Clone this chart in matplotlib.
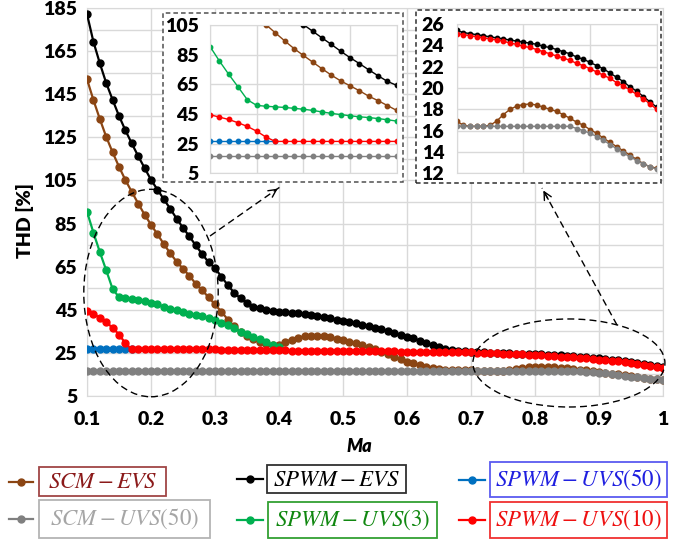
import numpy as np
import matplotlib
matplotlib.use("Agg")
from matplotlib import pyplot as plt
from matplotlib.patches import Ellipse, Rectangle, FancyArrowPatch
from matplotlib.lines import Line2D

plt.rcParams['font.family'] = ['Lato', 'DejaVu Sans']
plt.rcParams['mathtext.fontset'] = 'stix'

# modulation index Ma, 0.10 ... 1.00 in steps of 0.01
ma = np.round(np.arange(10, 101) / 100, 2)

# THD [%] per strategy
scm_evs = [
    152.1, 142.4, 133.6, 125.3, 118.1, 111.4, 105.2, 99.7, 94.3, 89.1,
    84.5, 80.0, 75.5, 71.2, 67.3, 64.0, 60.7, 57.0, 54.0, 50.7,
    47.4, 44.0, 40.4, 37.2, 34.7, 32.7, 31.2, 30.0, 29.1, 28.4,
    28.6, 30.0, 31.1, 32.0, 32.6, 32.9, 32.9, 32.6, 32.1, 31.5,
    30.9, 30.1, 29.3, 28.4, 27.5, 26.6, 25.4, 24.3, 23.1, 21.9,
    20.8, 20.0, 19.2, 18.5, 17.9, 17.4, 17.1, 17.0, 16.9, 16.9,
    16.9, 16.5, 16.4, 16.4, 16.4, 16.5, 16.9, 17.5, 18.0, 18.3,
    18.45, 18.5, 18.4, 18.2, 18.0, 17.8, 17.5, 17.15, 16.8, 16.5,
    16.1, 15.75, 15.3, 14.9, 14.5, 14.1, 13.7, 13.3, 12.9, 12.6,
    12.5,
]
scm_uvs50 = [
    16.4, 16.4, 16.4, 16.4, 16.4, 16.4, 16.4, 16.4, 16.4, 16.4,
    16.4, 16.4, 16.4, 16.4, 16.4, 16.4, 16.4, 16.4, 16.4, 16.4,
    16.4, 16.4, 16.4, 16.4, 16.4, 16.4, 16.4, 16.4, 16.4, 16.4,
    16.4, 16.4, 16.4, 16.4, 16.4, 16.4, 16.4, 16.4, 16.4, 16.4,
    16.4, 16.4, 16.4, 16.4, 16.4, 16.4, 16.4, 16.4, 16.4, 16.4,
    16.4, 16.4, 16.4, 16.4, 16.4, 16.4, 16.4, 16.4, 16.4, 16.4,
    16.4, 16.4, 16.4, 16.4, 16.4, 16.4, 16.4, 16.4, 16.4, 16.4,
    16.4, 16.4, 16.4, 16.4, 16.4, 16.4, 16.4, 16.4, 16.2, 16.0,
    15.75, 15.45, 15.1, 14.7, 14.3, 13.9, 13.55, 13.2, 12.9, 12.6,
    12.4,
]
spwm_evs = [
    182.3, 169.5, 159.5, 150.3, 142.5, 135.0, 128.3, 122.2, 116.3, 110.8,
    105.3, 100.8, 96.3, 91.9, 87.3, 83.0, 79.0, 74.8, 70.8, 67.0,
    64.3, 60.3, 56.4, 52.8, 50.2, 47.9, 46.3, 45.6, 44.9, 44.4,
    44.1, 43.8, 43.5, 43.2, 42.8, 42.4, 42.0, 41.5, 41.0, 40.4,
    39.8, 39.2, 38.6, 37.9, 37.2, 36.5, 35.8, 35.0, 34.2, 33.4,
    32.5, 31.6, 30.6, 29.6, 28.6, 27.7, 26.9, 26.3, 25.9, 25.6,
    25.4, 25.2, 25.1, 25.0, 24.9, 24.8, 24.7, 24.6, 24.5, 24.4,
    24.3, 24.2, 24.1, 23.9, 23.8, 23.6, 23.4, 23.2, 22.9, 22.7,
    22.4, 22.1, 21.8, 21.4, 21.0, 20.6, 20.1, 19.7, 19.2, 18.7,
    18.2,
]
# these two only run over the low-Ma range
spwm_uvs3 = [
    90.5, 80.8, 71.8, 63.3, 54.6, 50.8, 50.2, 49.8, 49.4, 48.8,
    48.2, 47.4, 46.4, 45.4, 44.6, 43.8, 43.1, 42.6, 41.9, 41.1,
    40.2, 38.9, 37.7, 36.3, 34.8, 33.6, 32.4, 31.2, 29.9, 28.6,
    27.8,
]
spwm_uvs50 = [26.5, 26.5, 26.5, 26.5, 26.5, 26.5, 26.5, 26.5]
spwm_uvs10 = [
    44.5, 42.9, 41.3, 39.1, 36.6, 33.4, 29.4, 26.5, 26.5, 26.5,
    26.5, 26.5, 26.5, 26.5, 26.5, 26.5, 26.5, 26.5, 26.5, 26.5,
    26.5, 26.4, 26.4, 26.3, 26.3, 26.3, 26.2, 26.2, 26.2, 26.1,
    26.1, 26.1, 26.0, 26.0, 26.0, 26.0, 25.9, 25.9, 25.9, 25.8,
    25.8, 25.8, 25.8, 25.7, 25.7, 25.7, 25.6, 25.6, 25.6, 25.5,
    25.5, 25.5, 25.4, 25.4, 25.4, 25.3, 25.3, 25.3, 25.2, 25.2,
    25.1, 25.0, 24.9, 24.8, 24.7, 24.6, 24.5, 24.4, 24.2, 24.1,
    23.9, 23.8, 23.6, 23.4, 23.2, 23.0, 22.8, 22.6, 22.3, 22.1,
    21.8, 21.5, 21.2, 20.9, 20.5, 20.2, 19.8, 19.4, 19.0, 18.5,
    18.0,
]

x_ticks = [0.1, 0.2, 0.3, 0.4, 0.5, 0.6, 0.7, 0.8, 0.9, 1.0]
x_tick_labels = ['0.1', '0.2', '0.3', '0.4', '0.5', '0.6', '0.7', '0.8', '0.9', '1']
y_ticks = [5, 25, 45, 65, 85, 105, 125, 145, 165, 185]

# drawing order: later series sit on top
series = [
    (ma, scm_evs, '#8B4513'),
    (ma, scm_uvs50, '#808080'),
    (ma, spwm_evs, '#000000'),
    (ma[:len(spwm_uvs3)], spwm_uvs3, '#00B050'),
    (ma[:len(spwm_uvs50)], spwm_uvs50, '#0070C0'),
    (ma, spwm_uvs10, '#FF0000'),
]
legend_labels = [
    r'$SCM-EVS$', r'$SCM-UVS\left(50\right)$', r'$SPWM-EVS$',
    r'$SPWM-UVS\left(3\right)$', r'$SPWM-UVS\left(50\right)$', r'$SPWM-UVS\left(10\right)$',
]
legend_text_colors = ['#8B1A1A', '#A6A6A6', '#000000', '#118811', '#2020E0', '#EE1111']
legend_box_colors = ['#A04545', '#B4B4B4', '#303030', '#33A033', '#5A5AF0', '#F03030']

W, H = 678, 539
grid_c = '#D9D9D9'


def fx(x):
    return x / W


def fy(y):
    return 1 - y / H


fig = plt.figure(figsize=(W / 100, H / 100), dpi=100)

# ---- main chart
ax = fig.add_axes([fx(87), fy(395.7), (663 - 87) / W, (395.7 - 8.3) / H])
for x, y, c in series:
    ax.plot(x, y, color=c, lw=1.6, marker='o', ms=5, zorder=3)
ax.set_xlim(0.1, 1.0)
ax.set_ylim(5, 185)
ax.set_xticks(x_ticks)
ax.set_xticklabels(x_tick_labels, fontsize=14, fontweight='heavy')
ax.set_yticks(y_ticks)
ax.set_yticklabels([str(v) for v in y_ticks], fontsize=14, fontweight='heavy')
ax.set_yticks(np.arange(15, 185, 20), minor=True)
ax.grid(True, which='both', color=grid_c, lw=1)
ax.set_axisbelow(True)
ax.tick_params(which='both', length=0)
ax.tick_params(axis='x', pad=11)
ax.tick_params(axis='y', pad=7)
for s in ax.spines.values():
    s.set_color(grid_c)

fig.text(fx(25), fy(221), 'THD [%]', rotation=90, ha='center', va='center',
         fontsize=14, fontweight='heavy')
fig.text(fx(359), fy(446), 'Ma', ha='center', va='center',
         fontsize=13, fontweight='heavy', style='italic')

# dashed ellipses marking the zoomed regions
ax.add_patch(Ellipse((0.2, 52.7), 0.21, 96.4, fill=False, ls=(0, (5, 3)),
                     lw=1, ec='black', clip_on=False, zorder=5))
ax.add_patch(Ellipse((0.853, 20.2), 0.30, 40.9, fill=False, ls=(0, (5, 3)),
                     lw=1, ec='black', clip_on=False, zorder=5))


def dashed_arrow(p0, p1):
    fig.add_artist(Line2D([fx(p0[0]), fx(p1[0])], [fy(p0[1]), fy(p1[1])],
                          color='black', lw=1, ls=(0, (5, 3)), zorder=3))
    t = 0.9
    q = (p0[0] + t * (p1[0] - p0[0]), p0[1] + t * (p1[1] - p0[1]))
    fig.add_artist(FancyArrowPatch((fx(q[0]), fy(q[1])), (fx(p1[0]), fy(p1[1])),
                                   transform=fig.transFigure, arrowstyle='->',
                                   mutation_scale=14, lw=1, color='black', zorder=3))


dashed_arrow((210, 236), (280, 187))
dashed_arrow((617, 325), (542, 188))

# ---- zoom insets
fig.add_artist(Rectangle((fx(163), fy(181.7)), (403 - 163) / W, (181.7 - 12.7) / H,
                         transform=fig.transFigure, fc='white', ec='#505050',
                         lw=1.1, ls=(0, (3, 2)), zorder=1))
fig.add_artist(Rectangle((fx(416), fy(182.7)), (661 - 416) / W, (182.7 - 10) / H,
                         transform=fig.transFigure, fc='white', ec='#303030',
                         lw=1.1, ls=(0, (3, 2)), zorder=1))


def inset(rect, xlim, ylim, yt, xt, pad):
    a = fig.add_axes(rect)
    a.set_zorder(2)
    for x, y, c in series:
        a.plot(x, y, color=c, lw=1.0, marker='o', ms=3.2)
    a.set_xlim(*xlim)
    a.set_ylim(*ylim)
    a.set_xticks(xt)
    a.set_xticklabels([])
    a.set_yticks(yt)
    a.set_yticklabels([str(v) for v in yt], fontsize=14, fontweight='heavy')
    a.grid(True, color=grid_c, lw=1)
    a.set_axisbelow(True)
    a.tick_params(length=0)
    a.tick_params(axis='y', pad=pad)
    for s in a.spines.values():
        s.set_color(grid_c)
    return a


inset([fx(210), fy(173.3), (396.7 - 210) / W, (173.3 - 25) / H],
      (0.1, 0.3), (5, 105), [5, 25, 45, 65, 85, 105],
      [0.1, 0.15, 0.2, 0.25, 0.3], 8)
inset([fx(456.7), fy(173.3), (656.7 - 456.7) / W, (173.3 - 24) / H],
      (0.7, 1.0), (12, 26), [12, 14, 16, 18, 20, 22, 24, 26],
      [0.7, 0.8, 0.9, 1.0], 9)

# ---- legend: line sample + framed label, 2 rows x 3 columns
# (left, top, right, bottom) of each frame in pixels, same order as series
frames = [
    (39, 467, 166, 496),
    (39, 500, 210, 538),
    (267, 465, 406, 493),
    (268, 502, 437, 538),
    (490, 462, 667, 497),
    (490, 502, 667, 538),
]
sample_x = [(9, 33), (9, 33), (237, 263), (237, 263), (459, 485), (459, 485)]
for (x, y, c), label, tc, bc, (l, t, r, b), (x0, x1) in zip(
        series, legend_labels, legend_text_colors, legend_box_colors, frames, sample_x):
    yc = (t + b) / 2
    fig.add_artist(Line2D([fx(x0), fx(x1)], [fy(yc), fy(yc)], color=c, lw=1.6))
    fig.add_artist(Line2D([fx((x0 + x1) / 2)], [fy(yc)], color=c, marker='o', ms=5))
    fig.add_artist(Rectangle((fx(l), fy(b)), (r - l) / W, (b - t) / H,
                             transform=fig.transFigure, fc='white', ec=bc, lw=1.3))
    fig.text(fx((l + r) / 2), fy(yc), label, ha='center', va='center',
             fontsize=16.5, color=tc)

fig.savefig('out.png', dpi=100)
